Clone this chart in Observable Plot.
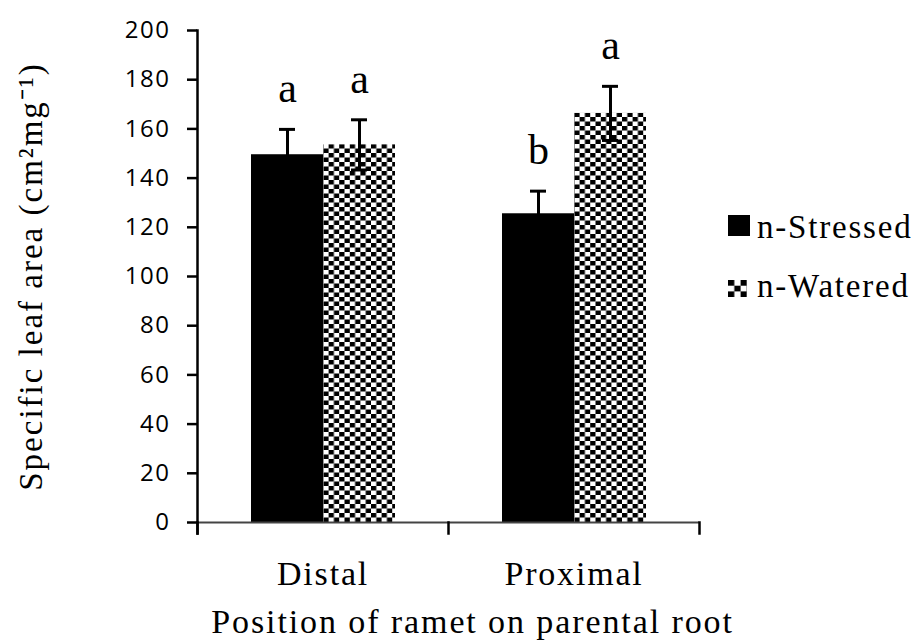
<!DOCTYPE html>
<html>
<head>
<meta charset="utf-8">
<script src="https://cdn.jsdelivr.net/npm/d3@7"></script>
<script src="https://cdn.jsdelivr.net/npm/@observablehq/plot@0.6"></script>
<style>
  html, body { margin: 0; padding: 0; background: #fff; }
  #wrap { position: relative; width: 922px; height: 644px; overflow: hidden; }
  #wrap svg text { fill: #000; }
  g[aria-label="y-axis tick label"] text { font-family: "Open Sans", sans-serif; font-size: 24px; letter-spacing: 1.5px; }
  g[aria-label="y-axis label"] text { font-family: "Liberation Serif", serif; font-size: 33px; letter-spacing: 2px; }
  g[aria-label="fx-axis tick label"] text { font-family: "Liberation Serif", serif; font-size: 34px; letter-spacing: 1.8px; }
  g[aria-label="fx-axis label"] text { font-family: "Liberation Serif", serif; font-size: 34px; letter-spacing: 1.9px; }
</style>
</head>
<body>
<div id="wrap"></div>
<script>
// ---- data ----
const groups = ["Distal", "Proximal"];
const seriesNames = ["n-Stressed", "n-Watered"];
const stressedMean = [149.5, 125.5];
const stressedErr = [10.3, 9.2];
const wateredMean = [153.5, 166.3];
const wateredErr = [10.2, 11.0];
const stressedLetters = ["a", "b"];
const wateredLetters = ["a", "a"];
const yTicks = [0, 20, 40, 60, 80, 100, 120, 140, 160, 180, 200];
const yLabel = "Specific leaf area (cm²mg⁻¹)";
const xLabel = "Position of ramet on parental root";

const rows = [];
groups.forEach((g, i) => {
  rows.push({group: g, series: seriesNames[0], value: stressedMean[i], err: stressedErr[i], letter: stressedLetters[i]});
  rows.push({group: g, series: seriesNames[1], value: wateredMean[i], err: wateredErr[i], letter: wateredLetters[i]});
});
const hi = d => d.value + d.err;
const lo = d => d.value - d.err;

const chart = Plot.plot({
  width: 922,
  height: 644,
  marginLeft: 197,
  marginRight: 223,
  marginTop: 30,
  marginBottom: 122,
  style: {background: "white", color: "black", fontFamily: "Liberation Serif, serif"},
  fx: {domain: groups, padding: 0},
  x: {domain: seriesNames, paddingInner: 0, paddingOuter: 0.731, axis: null},
  y: {domain: [0, 200]},
  marks: [
    Plot.barY(rows.filter(d => d.series === seriesNames[0]), {fx: "group", x: "series", y: "value", fill: "black"}),
    Plot.barY(rows.filter(d => d.series === seriesNames[1]), {fx: "group", x: "series", y: "value", fill: "url(#checker)"}),
    Plot.ruleX(rows, {fx: "group", x: "series", y1: lo, y2: hi, stroke: "black", strokeWidth: 3}),
    Plot.tickY(rows, {fx: "group", x: "series", y: hi, stroke: "black", strokeWidth: 3, inset: 28}),
    Plot.tickY(rows, {fx: "group", x: "series", y: lo, stroke: "black", strokeWidth: 3, inset: 28}),
    Plot.text(rows, {fx: "group", x: "series", y: hi, text: "letter", dy: -27, lineAnchor: "bottom",
      fontSize: 42, fontFamily: "Liberation Serif, serif", fill: "black"}),
    Plot.ruleY([0], {stroke: "#444", strokeWidth: 2}),
    Plot.frame({anchor: "left", facetAnchor: "left", stroke: "black", strokeWidth: 2.5, insetBottom: -11}),
    Plot.frame({anchor: "left", stroke: "black", strokeWidth: 2.5, insetTop: 492, insetBottom: -11}),
    Plot.frame({anchor: "right", facetAnchor: "right", stroke: "black", strokeWidth: 2.5, insetTop: 492, insetBottom: -11}),
    Plot.axisY({ticks: yTicks, tickSize: 10, tickPadding: 17, strokeWidth: 2.5, tickFormat: d => String(d),
      fontSize: 24, fontFamily: "Open Sans, sans-serif",
      label: yLabel, labelAnchor: "center", labelArrow: "none", labelOffset: 179}),
    Plot.axisFx({anchor: "bottom", tickSize: 0, tickPadding: 38,
      label: xLabel, labelAnchor: "center", labelArrow: "none", labelOffset: 110})
  ]
});

// pattern definitions for the checkered fill
const defs = d3.create("svg:defs");
const pat = defs.append("pattern").attr("id", "checker").attr("patternUnits", "userSpaceOnUse")
  .attr("width", 10.6).attr("height", 9);
pat.append("rect").attr("width", 10.6).attr("height", 9).attr("fill", "white");
pat.append("rect").attr("width", 5.3).attr("height", 4.5).attr("fill", "black");
pat.append("rect").attr("x", 5.3).attr("y", 4.5).attr("width", 5.3).attr("height", 4.5).attr("fill", "black");
chart.insertBefore(defs.node(), chart.firstChild);

// shift x title to match reference placement
d3.select(chart).select('g[aria-label="fx-axis label"] text').attr("dx", 24);

document.getElementById("wrap").appendChild(chart);

// ---- legend ----
const leg = d3.select("#wrap").append("svg")
  .attr("width", 200).attr("height", 110)
  .style("position", "absolute").style("left", "720px").style("top", "200px");
const ldefs = leg.append("defs");
const lp = ldefs.append("pattern").attr("id", "checkerSmall").attr("patternUnits", "userSpaceOnUse")
  .attr("width", 12.6).attr("height", 11.4).attr("x", 8).attr("y", 80);
lp.append("rect").attr("width", 12.6).attr("height", 11.4).attr("fill", "white");
lp.append("rect").attr("width", 6.3).attr("height", 5.7).attr("fill", "black");
lp.append("rect").attr("x", 6.3).attr("y", 5.7).attr("width", 6.3).attr("height", 5.7).attr("fill", "black");
const fills = ["black", "url(#checkerSmall)"];
const swatch = [{y: 15, w: 22, h: 21}, {y: 80, w: 19, h: 17}];
seriesNames.forEach((s, i) => {
  leg.append("rect").attr("x", 8).attr("y", swatch[i].y).attr("width", swatch[i].w).attr("height", swatch[i].h).attr("fill", fills[i]);
  leg.append("text").attr("x", 37).attr("y", 38 + i * 59).text(s)
    .style("font-family", "Liberation Serif, serif").style("font-size", "33px").style("letter-spacing", "1.8px").attr("fill", "black");
});
</script>
</body>
</html>
